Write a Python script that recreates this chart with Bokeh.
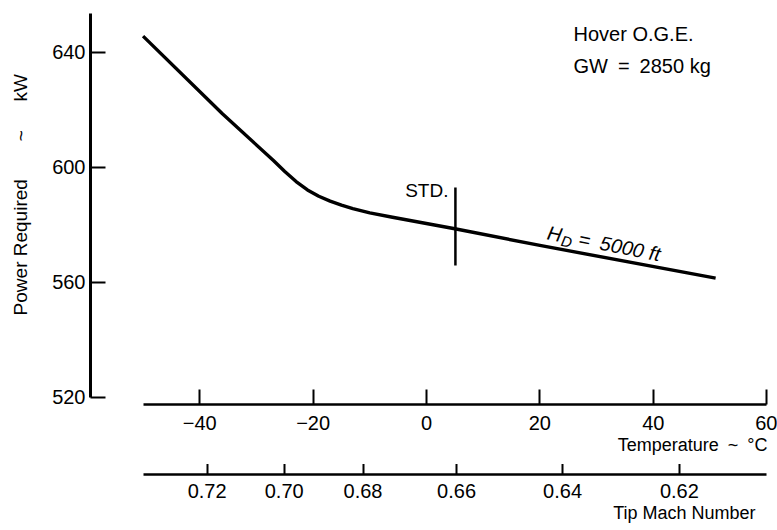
import math
from bokeh.plotting import figure
from bokeh.models import LinearAxis, Range1d, FixedTicker, Label, Title
from bokeh.layouts import column
from bokeh.embed import file_html
from bokeh.resources import INLINE

# ---- data ----
temp_c = [-50, -36, -27, -25, -23, -21, -19, -17, -15, -13, -10, -6, 5, 20, 51]
power_kw = [645.6, 618.6, 602.3, 598.5, 595.0, 592.1, 589.9, 588.2, 586.8, 585.6,
            584.1, 582.6, 578.6, 572.8, 561.4]
std_temp = 5.1
std_power = [565.8, 592.9]
power_ticks = [520, 560, 600, 640]
temp_ticks = [-40, -20, 0, 20, 40, 60]
temp_tick_labels = ["\u221240", "\u221220", "0", "20", "40", "60"]
mach_tick_labels = ["0.72", "0.70", "0.68", "0.66", "0.64", "0.62"]
mach_tick_temps = [-38.7, -25.1, -11.2, 5.3, 24.0, 44.6]

FONT = "Liberation Sans"
TICK_FS = "20px"
FS = "18px"
W = 777
X0, X1 = -59.27, 60.15
Y0, Y1 = 517.46, 653.46
ML, MR = 90, 10
FRAME_TOP, FRAME_H = 13, 391

xr = Range1d(X0, X1)
yr = Range1d(Y0, Y1)
PXX = (W - ML - MR) / (X1 - X0)
PXY = FRAME_H / (Y1 - Y0)

A = figure(width=W, height=FRAME_TOP + FRAME_H + 60, x_range=xr, y_range=yr,
           output_backend="svg", toolbar_location=None,
           x_axis_type=None, y_axis_type=None,
           min_border_left=ML, min_border_right=MR,
           min_border_top=FRAME_TOP, min_border_bottom=60)
A.outline_line_color = None
A.background_fill_color = "white"
A.border_fill_color = "white"


def style_axis(ax, tick_in=15):
    ax.major_tick_in = tick_in
    ax.major_tick_out = 0
    ax.minor_tick_in = 0
    ax.minor_tick_out = 0
    ax.axis_line_color = "black"
    ax.major_tick_line_color = "black"
    ax.major_tick_line_width = 2
    ax.major_label_text_font = FONT
    ax.major_label_text_font_size = TICK_FS
    ax.major_label_text_color = "black"
    ax.axis_label_text_font = FONT
    ax.axis_label_text_font_size = "19px"
    ax.axis_label_text_font_style = "normal"
    ax.axis_label_text_color = "black"


def side_title(text, offset=0):
    return Title(text=text, align="right", offset=offset, standoff=0,
                 text_font=FONT, text_font_size=FS, text_font_style="normal",
                 text_color="black")


yax = LinearAxis(ticker=FixedTicker(ticks=power_ticks), bounds=(520, Y1),
                 axis_label="\u2003\u2002Power Required\u2003\u2003~\u2003\u2002kW")
style_axis(yax)
yax.axis_line_width = 3
yax.major_label_standoff = 5
yax.axis_label_standoff = 18
A.add_layout(yax, "left")

tax = LinearAxis(ticker=FixedTicker(ticks=temp_ticks), bounds=(-50, 60),
                 major_label_overrides=dict(zip(temp_ticks, temp_tick_labels)))
style_axis(tax)
tax.axis_line_width = 2.5
tax.major_label_standoff = 11
A.add_layout(tax, "below")
A.add_layout(side_title("Temperature\u2002~\u2002\u00b0C"), "below")

A.line(temp_c, power_kw, line_width=3.4, line_color="black", line_join="round")
A.line([std_temp, std_temp], std_power, line_width=2.5, line_color="black")


def lab(fig, text, x, y, **kw):
    opts = dict(text_font=FONT, text_font_size=FS, text_color="black")
    opts.update(kw)
    fig.add_layout(Label(x=x, y=y, text=text, **opts))


def px_to_data(px, py):
    """page pixel -> data coordinates of the main frame (used for text placement)"""
    return X0 + (px - ML) / PXX, Y1 - (py - FRAME_TOP) / PXY


lab(A, "STD.", std_temp, 591.9, x_offset=-7, text_align="right", text_baseline="middle",
    text_font_size="19px")
hx, hy = px_to_data(573, 33)
lab(A, "Hover O.G.E.", hx, hy, text_align="left", text_baseline="middle", text_font_size="20px")
gx, gy = px_to_data(573, 65)
lab(A, "GW\u2002=\u20022850 kg", gx, gy, text_align="left", text_baseline="middle",
    text_font_size="20px")

# H_D = 5000 ft, written along the curve
theta = math.radians(11)
ax0, ay0 = px_to_data(547, 232)


def along(a, b):
    sx = a * math.cos(theta) - b * math.sin(theta)
    sy = a * math.sin(theta) + b * math.cos(theta)
    return ax0 + sx / PXX, ay0 - sy / PXY


lab(A, "H", ax0, ay0, angle=-theta, text_font_style="italic", text_baseline="alphabetic",
    text_font_size="20px")
dx, dy = along(15, 5)
lab(A, "D", dx, dy, angle=-theta, text_font_style="italic", text_font_size="15px",
    text_baseline="alphabetic")
ex, ey = along(32, 0)
lab(A, "=\u20025000 ft", ex, ey, angle=-theta, text_font_style="italic",
    text_baseline="alphabetic", text_font_size="20px")

# second strip: tip Mach number scale
B_TOP, B_FRAME, B_BOTTOM = 2, 8, 56
B = figure(width=W, height=B_TOP + B_FRAME + B_BOTTOM, x_range=xr, y_range=Range1d(0, 1),
           output_backend="svg", toolbar_location=None,
           x_axis_type=None, y_axis_type=None,
           min_border_left=ML, min_border_right=MR,
           min_border_top=B_TOP, min_border_bottom=B_BOTTOM)
B.outline_line_color = None
B.border_fill_color = "white"

max_ = LinearAxis(ticker=FixedTicker(ticks=mach_tick_temps), bounds=(-50, 60),
                  major_label_overrides=dict(zip(mach_tick_temps, mach_tick_labels)))
style_axis(max_)
max_.axis_line_width = 2.5
max_.major_label_standoff = 9
B.add_layout(max_, "below")
B.add_layout(side_title("Tip Mach Number", offset=12), "below")

layout = column(A, B)
open("out.html", "w").write(file_html(layout, INLINE))
